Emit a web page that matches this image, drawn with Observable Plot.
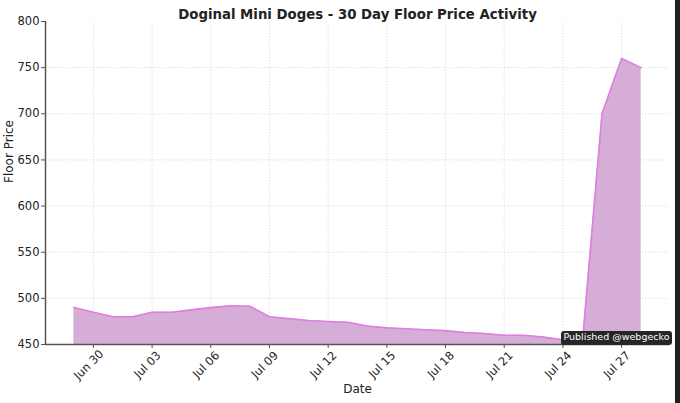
<!DOCTYPE html>
<html>
<head>
<meta charset="utf-8">
<script src="https://cdn.jsdelivr.net/npm/d3@7"></script>
<script src="https://cdn.jsdelivr.net/npm/@observablehq/plot@0.6"></script>
<style>
  html, body { margin: 0; padding: 0; background: #fff; }
  #wrap { position: relative; width: 680px; height: 403px; overflow: hidden; }
  #badge {
    position: absolute; left: 561px; top: 331px; width: 111px; height: 14px; line-height: 14px;
    background: #262626; color: #fff; border-radius: 3px; text-align: center;
    font: 9.5px "DejaVu Sans", sans-serif; white-space: nowrap; z-index: 2;
  }
  #edge { position: absolute; left: 675px; top: 0; width: 5px; height: 403px; background: #1f1f1f; }
</style>
</head>
<body>
<div id="wrap"><div id="chart"></div><div id="badge">Published @webgecko</div><div id="edge"></div></div>
<script>
const title = "Doginal Mini Doges - 30 Day Floor Price Activity";
const dates = [
  "2024-06-29","2024-06-30","2024-07-01","2024-07-02","2024-07-03","2024-07-04",
  "2024-07-05","2024-07-06","2024-07-07","2024-07-08","2024-07-09","2024-07-10",
  "2024-07-11","2024-07-12","2024-07-13","2024-07-14","2024-07-15","2024-07-16",
  "2024-07-17","2024-07-18","2024-07-19","2024-07-20","2024-07-21","2024-07-22",
  "2024-07-23","2024-07-24","2024-07-25","2024-07-26","2024-07-27","2024-07-28"
];
const prices = [
  490, 485, 480, 480, 485, 485,
  487.5, 490, 492, 491.5, 480, 478,
  476, 475, 474, 470, 468, 467,
  466, 465, 463, 462, 460, 460,
  458, 455, 453, 700, 760, 750
];
const xTickLabels = ["2024-06-30","2024-07-03","2024-07-06","2024-07-09","2024-07-12",
                     "2024-07-15","2024-07-18","2024-07-21","2024-07-24","2024-07-27"];
const yTicks = [450, 500, 550, 600, 650, 700, 750, 800];
const yGrid = [500, 550, 600, 650, 700, 750];

const parse = d3.utcParse("%Y-%m-%d");
const data = dates.map((d, i) => ({date: parse(d), price: prices[i]}));
const xTicks = xTickLabels.map(parse);
const fmt = d3.utcFormat("%b %d");

const t0 = data[0].date, t1 = data[data.length - 1].date;
const pad = (t1 - t0) * 0.05;
const xDomain = [new Date(+t0 - pad), new Date(+t1 + pad)];
const yMin = 450;

const ink = "#222";
const gridStyle = {stroke: "#d9d9d9", strokeOpacity: 1, strokeDasharray: "1.5,1.5", strokeWidth: 0.8};
const plot = Plot.plot({
  width: 680,
  height: 403,
  marginLeft: 45,
  marginRight: 11,
  marginTop: 21,
  marginBottom: 59,
  style: {fontFamily: "DejaVu Sans, sans-serif", fontSize: "11px", color: ink, background: "#fff", overflow: "visible"},
  x: {type: "utc", domain: xDomain},
  y: {domain: [450, 800]},
  marks: [
    Plot.gridY(yGrid, gridStyle),
    Plot.gridX(xTicks, gridStyle),
    Plot.areaY(data, {x: "date", y1: yMin, y2: "price", fill: "#d5add7", fillOpacity: 1}),
    Plot.lineY(data, {x: "date", y: "price", stroke: "#dd7fe0", strokeWidth: 1.6}),
    Plot.ruleY([yMin], {stroke: "#555", strokeWidth: 1.5}),
    Plot.ruleX([xDomain[0]], {stroke: "#555", strokeWidth: 1.5}),
    Plot.axisY({ticks: yTicks, tickSize: 4, tickPadding: 2, label: null, stroke: "#555", fill: ink, fontSize: 11.5}),
    Plot.axisX({ticks: xTicks, tickSize: 4, tickFormat: () => "", label: null, stroke: "#555"}),
    Plot.text(xTicks, {x: d => d, frameAnchor: "bottom", dy: 23, dx: -2, rotate: -45, text: fmt, textAnchor: "middle", fill: ink, fontSize: 11.5}),
    Plot.text(["Date"], {frameAnchor: "bottom", dy: 48, text: d => d, fill: ink, fontSize: 12}),
    Plot.text(["Floor Price"], {frameAnchor: "left", dx: -36, rotate: -90, text: d => d, fill: ink, fontSize: 12}),
    Plot.text([title], {frameAnchor: "top", dy: -12, text: d => d, fill: ink, fontSize: 13.3, fontWeight: "bold"})
  ]
});
document.getElementById("chart").appendChild(plot);
</script>
</body>
</html>
